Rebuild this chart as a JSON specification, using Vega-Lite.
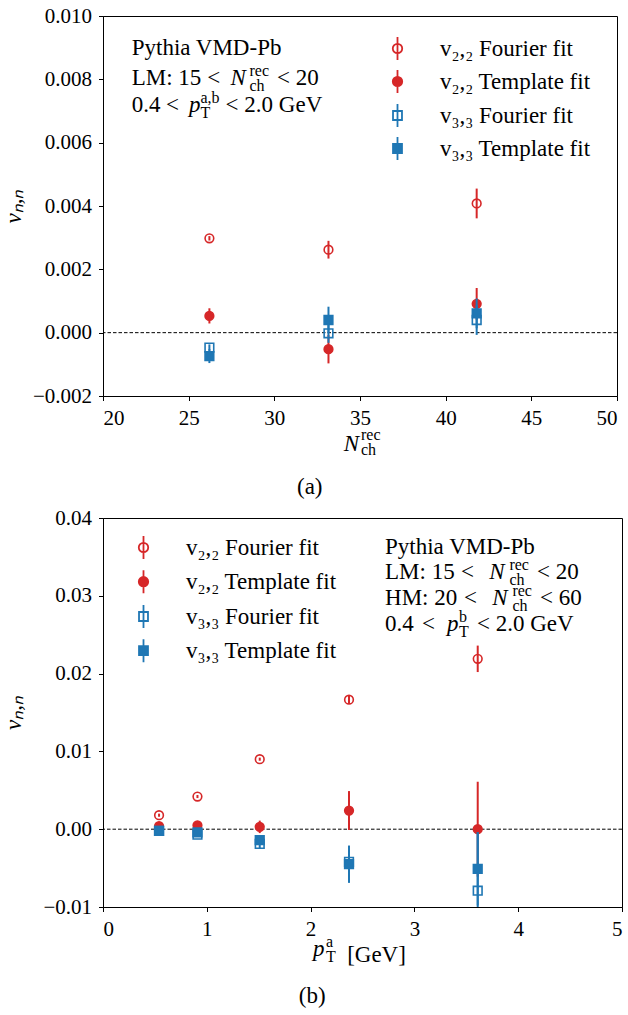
{
  "$schema": "https://vega.github.io/schema/vega-lite/v6.json",
  "padding": {"left": 1, "top": 4, "right": 0, "bottom": 0},
  "config": {
    "font": "Liberation Serif",
    "view": {"stroke": "black", "strokeWidth": 1},
    "axis": {"grid": false, "domainColor": "black", "tickColor": "black", "labelColor": "black", "titleColor": "black", "labelFont": "Liberation Serif", "titleFont": "Liberation Serif", "labelFontSize": 21, "titleFontSize": 23, "titleFontWeight": "normal", "tickSize": 4.5, "labelPadding": 7, "domainWidth": 1, "tickWidth": 1},
    "legend": {"labelFont": "Liberation Serif", "labelFontSize": 23, "labelColor": "black", "labelLimit": 0, "padding": 0, "symbolSize": 529, "symbolStrokeWidth": 1.8, "rowPadding": 2, "labelOffset": 30},
    "title": {"font": "Liberation Serif", "fontSize": 23, "fontWeight": "normal", "color": "black"},
    "text": {"font": "Liberation Serif", "fontSize": 23, "color": "black", "align": "left", "baseline": "alphabetic"}
  },
  "datasets": {
    "pa": [
      {"series": "v₂,₂ Fourier fit", "x": 26.21, "y": 0.00298, "lo": 0.00291, "hi": 0.00305},
      {"series": "v₂,₂ Fourier fit", "x": 33.16, "y": 0.00262, "lo": 0.00234, "hi": 0.00290},
      {"series": "v₂,₂ Fourier fit", "x": 41.81, "y": 0.00408, "lo": 0.00361, "hi": 0.00455},
      {"series": "v₂,₂ Template fit", "x": 26.21, "y": 0.00053, "lo": 0.00029, "hi": 0.00077},
      {"series": "v₂,₂ Template fit", "x": 33.16, "y": -0.00052, "lo": -0.00097, "hi": -0.00007},
      {"series": "v₂,₂ Template fit", "x": 41.81, "y": 0.00091, "lo": 0.00041, "hi": 0.00141},
      {"series": "v₃,₃ Fourier fit", "x": 26.21, "y": -0.00047, "lo": -0.00057, "hi": -0.00037},
      {"series": "v₃,₃ Fourier fit", "x": 33.16, "y": -0.00002, "lo": -0.00032, "hi": 0.00028},
      {"series": "v₃,₃ Fourier fit", "x": 41.81, "y": 0.00040, "lo": -0.00007, "hi": 0.00087},
      {"series": "v₃,₃ Template fit", "x": 26.21, "y": -0.00074, "lo": -0.00096, "hi": -0.00052},
      {"series": "v₃,₃ Template fit", "x": 33.16, "y": 0.00040, "lo": -0.00002, "hi": 0.00082},
      {"series": "v₃,₃ Template fit", "x": 41.81, "y": 0.00061, "lo": 0.00014, "hi": 0.00108}
    ],
    "pb": [
      {"series": "v₂,₂ Fourier fit", "x": 0.54, "y": 0.0018, "lo": 0.0016, "hi": 0.0020},
      {"series": "v₂,₂ Fourier fit", "x": 0.91, "y": 0.0042, "lo": 0.0040, "hi": 0.0044},
      {"series": "v₂,₂ Fourier fit", "x": 1.51, "y": 0.0090, "lo": 0.0088, "hi": 0.0092},
      {"series": "v₂,₂ Fourier fit", "x": 2.37, "y": 0.01665, "lo": 0.0161, "hi": 0.0172},
      {"series": "v₂,₂ Fourier fit", "x": 3.61, "y": 0.0219, "lo": 0.0202, "hi": 0.0236},
      {"series": "v₂,₂ Template fit", "x": 0.54, "y": 0.0004, "lo": 0.0002, "hi": 0.0006},
      {"series": "v₂,₂ Template fit", "x": 0.91, "y": 0.0005, "lo": 0.0003, "hi": 0.0007},
      {"series": "v₂,₂ Template fit", "x": 1.51, "y": 0.0003, "lo": -0.0005, "hi": 0.0011},
      {"series": "v₂,₂ Template fit", "x": 2.37, "y": 0.0024, "lo": -0.0001, "hi": 0.0049},
      {"series": "v₂,₂ Template fit", "x": 3.61, "y": 0.0000, "lo": -0.0061, "hi": 0.0061},
      {"series": "v₃,₃ Fourier fit", "x": 0.54, "y": -0.0002, "lo": -0.0004, "hi": 0.0000},
      {"series": "v₃,₃ Fourier fit", "x": 0.91, "y": -0.0007, "lo": -0.0010, "hi": -0.0004},
      {"series": "v₃,₃ Fourier fit", "x": 1.51, "y": -0.0019, "lo": -0.0025, "hi": -0.0013},
      {"series": "v₃,₃ Fourier fit", "x": 2.37, "y": -0.0042, "lo": -0.0060, "hi": -0.0024},
      {"series": "v₃,₃ Fourier fit", "x": 3.61, "y": -0.0079, "lo": -0.0154, "hi": -0.0004},
      {"series": "v₃,₃ Template fit", "x": 0.54, "y": -0.0002, "lo": -0.0004, "hi": 0.0000},
      {"series": "v₃,₃ Template fit", "x": 0.91, "y": -0.0004, "lo": -0.0006, "hi": -0.0002},
      {"series": "v₃,₃ Template fit", "x": 1.51, "y": -0.0014, "lo": -0.0020, "hi": -0.0008},
      {"series": "v₃,₃ Template fit", "x": 2.37, "y": -0.0045, "lo": -0.0069, "hi": -0.0021},
      {"series": "v₃,₃ Template fit", "x": 3.61, "y": -0.0051, "lo": -0.0098, "hi": -0.0004}
    ],
    "one": [{}]
  },
  "columns": 1,
  "spacing": 6,
  "resolve": {"scale": {"fill": "independent", "stroke": "independent"}, "legend": {"fill": "independent", "stroke": "independent"}},
  "concat": [
    {
      "width": 514, "height": 380,
      "title": {"text": "(a)", "orient": "bottom", "anchor": "middle", "frame": "bounds", "offset": 18},
      "resolve": {"scale": {"fill": "independent", "stroke": "independent"}, "legend": {"fill": "independent", "stroke": "independent"}},
      "layer": [
        {"data": {"name": "one"}, "mark": {"type": "rule", "strokeDash": [3.5, 2], "strokeWidth": 1, "color": "black"},
         "encoding": {"y": {"datum": 0, "type": "quantitative", "scale": {"domain": [-0.002, 0.010], "nice": false, "zero": false}}}},
        {"data": {"name": "pa"},
         "transform": [{"filter": {"field": "series", "oneOf": ["v₂,₂ Fourier fit", "v₂,₂ Template fit"]}}],
         "layer": [
           {"mark": {"type": "rule", "strokeWidth": 2, "clip": true},
            "encoding": {
              "x": {"field": "x", "type": "quantitative", "scale": {"domain": [20, 50], "nice": false, "zero": false}},
              "y": {"field": "lo", "type": "quantitative"},
              "y2": {"field": "hi"},
              "stroke": {"field": "series", "type": "nominal", "scale": {"domain": ["v₂,₂ Fourier fit", "v₂,₂ Template fit"], "range": ["#d62728", "#d62728"]},
                         "legend": {"orient": "none", "legendX": 282, "legendY": 20, "title": null, "symbolType": "M-0.41,0A0.41,0.41,0,1,1,0.41,0A0.41,0.41,0,1,1,-0.41,0Z M0,-1L0,1"}}
            }},
           {"mark": {"type": "point", "shape": "circle", "size": 75, "strokeWidth": 1.6, "opacity": 1, "filled": true},
            "encoding": {
              "x": {"field": "x", "type": "quantitative", "scale": {"domain": [20, 50], "nice": false, "zero": false},
                    "axis": {"values": [20, 25, 30, 35, 40, 45, 50], "format": "d", "title": "N", "titleFontStyle": "italic", "titleX": 248, "titlePadding": 4}},
              "y": {"field": "y", "type": "quantitative", "scale": {"domain": [-0.002, 0.010], "nice": false, "zero": false},
                    "axis": {"values": [-0.002, 0, 0.002, 0.004, 0.006, 0.008, 0.010], "format": ".3f", "title": "vₙ,ₙ", "titleFontStyle": "italic", "minExtent": 72, "titlePadding": 6}},
              "fill": {"field": "series", "type": "nominal", "scale": {"domain": ["v₂,₂ Fourier fit", "v₂,₂ Template fit"], "range": ["transparent", "#d62728"]},
                       "legend": {"orient": "none", "legendX": 282, "legendY": 20, "title": null, "symbolType": "M-0.41,0A0.41,0.41,0,1,1,0.41,0A0.41,0.41,0,1,1,-0.41,0Z M0,-1L0,1"}},
              "stroke": {"field": "series", "type": "nominal", "scale": {"domain": ["v₂,₂ Fourier fit", "v₂,₂ Template fit"], "range": ["#d62728", "#d62728"]},
                         "legend": {"orient": "none", "legendX": 282, "legendY": 20, "title": null, "symbolType": "M-0.41,0A0.41,0.41,0,1,1,0.41,0A0.41,0.41,0,1,1,-0.41,0Z M0,-1L0,1"}}
            }}
         ]},
        {"data": {"name": "pa"},
         "transform": [{"filter": {"field": "series", "oneOf": ["v₃,₃ Fourier fit", "v₃,₃ Template fit"]}}],
         "layer": [
           {"mark": {"type": "rule", "strokeWidth": 2, "clip": true},
            "encoding": {
              "x": {"field": "x", "type": "quantitative"},
              "y": {"field": "lo", "type": "quantitative"},
              "y2": {"field": "hi"},
              "stroke": {"field": "series", "type": "nominal", "scale": {"domain": ["v₃,₃ Fourier fit", "v₃,₃ Template fit"], "range": ["#1f77b4", "#1f77b4"]},
                         "legend": {"orient": "none", "legendX": 282, "legendY": 87, "title": null, "symbolType": "M-0.39,-0.39H0.39V0.39H-0.39Z M0,-1L0,1"}}
            }},
           {"mark": {"type": "point", "shape": "square", "size": 75, "strokeWidth": 1.6, "opacity": 1, "filled": true},
            "encoding": {
              "x": {"field": "x", "type": "quantitative"},
              "y": {"field": "y", "type": "quantitative"},
              "fill": {"field": "series", "type": "nominal", "scale": {"domain": ["v₃,₃ Fourier fit", "v₃,₃ Template fit"], "range": ["transparent", "#1f77b4"]},
                       "legend": {"orient": "none", "legendX": 282, "legendY": 87, "title": null, "symbolType": "M-0.39,-0.39H0.39V0.39H-0.39Z M0,-1L0,1"}},
              "stroke": {"field": "series", "type": "nominal", "scale": {"domain": ["v₃,₃ Fourier fit", "v₃,₃ Template fit"], "range": ["#1f77b4", "#1f77b4"]},
                         "legend": {"orient": "none", "legendX": 282, "legendY": 87, "title": null, "symbolType": "M-0.39,-0.39H0.39V0.39H-0.39Z M0,-1L0,1"}}
            }}
         ]},
        {"data": {"name": "one"}, "mark": {"type": "text"}, "encoding": {"text": {"value": "Pythia VMD-Pb"}, "x": {"datum": 21.675, "type": "quantitative"}, "y": {"datum": 0.008768, "type": "quantitative"}}},
        {"data": {"name": "one"}, "mark": {"type": "text"}, "encoding": {"text": {"value": "LM: 15"}, "x": {"datum": 21.675, "type": "quantitative"}, "y": {"datum": 0.007821, "type": "quantitative"}}},
        {"data": {"name": "one"}, "mark": {"type": "text"}, "encoding": {"text": {"value": "<"}, "x": {"datum": 26.082, "type": "quantitative"}, "y": {"datum": 0.007821, "type": "quantitative"}}},
        {"data": {"name": "one"}, "mark": {"type": "text", "fontStyle": "italic"}, "encoding": {"text": {"value": "N"}, "x": {"datum": 27.436, "type": "quantitative"}, "y": {"datum": 0.007821, "type": "quantitative"}}},
        {"data": {"name": "one"}, "mark": {"type": "text", "fontSize": 16, "lineHeight": 15}, "encoding": {"text": {"value": ["rec", "ch"]}, "x": {"datum": 28.551, "type": "quantitative"}, "y": {"datum": 0.008105, "type": "quantitative"}}},
        {"data": {"name": "one"}, "mark": {"type": "text"}, "encoding": {"text": {"value": "< 20"}, "x": {"datum": 30.156, "type": "quantitative"}, "y": {"datum": 0.007821, "type": "quantitative"}}},
        {"data": {"name": "one"}, "mark": {"type": "text"}, "encoding": {"text": {"value": "0.4"}, "x": {"datum": 21.675, "type": "quantitative"}, "y": {"datum": 0.006978, "type": "quantitative"}}},
        {"data": {"name": "one"}, "mark": {"type": "text"}, "encoding": {"text": {"value": "<"}, "x": {"datum": 23.671, "type": "quantitative"}, "y": {"datum": 0.006978, "type": "quantitative"}}},
        {"data": {"name": "one"}, "mark": {"type": "text", "fontStyle": "italic"}, "encoding": {"text": {"value": "p"}, "x": {"datum": 25.025, "type": "quantitative"}, "y": {"datum": 0.006978, "type": "quantitative"}}},
        {"data": {"name": "one"}, "mark": {"type": "text", "fontSize": 16, "lineHeight": 15}, "encoding": {"text": {"value": ["a,b", "T"]}, "x": {"datum": 25.691, "type": "quantitative"}, "y": {"datum": 0.007262, "type": "quantitative"}}},
        {"data": {"name": "one"}, "mark": {"type": "text"}, "encoding": {"text": {"value": "< 2.0 GeV"}, "x": {"datum": 27.156, "type": "quantitative"}, "y": {"datum": 0.006978, "type": "quantitative"}}},
        {"data": {"name": "one"}, "mark": {"type": "text", "fontSize": 16, "lineHeight": 15}, "encoding": {"text": {"value": ["rec", "ch"]}, "x": {"datum": 35.059, "type": "quantitative"}, "y": {"datum": -0.003389, "type": "quantitative"}}}
      ]
    },
    {
      "width": 519, "height": 389,
      "title": {"text": "(b)", "orient": "bottom", "anchor": "middle", "frame": "bounds", "offset": 18},
      "resolve": {"scale": {"fill": "independent", "stroke": "independent"}, "legend": {"fill": "independent", "stroke": "independent"}},
      "layer": [
        {"data": {"name": "one"}, "mark": {"type": "rule", "strokeDash": [3.5, 2], "strokeWidth": 1, "color": "black"},
         "encoding": {"y": {"datum": 0, "type": "quantitative", "scale": {"domain": [-0.01, 0.04], "nice": false, "zero": false}}}},
        {"data": {"name": "pb"},
         "transform": [{"filter": {"field": "series", "oneOf": ["v₂,₂ Fourier fit", "v₂,₂ Template fit"]}}],
         "layer": [
           {"mark": {"type": "rule", "strokeWidth": 2, "clip": true},
            "encoding": {
              "x": {"field": "x", "type": "quantitative", "scale": {"domain": [0, 5], "nice": false, "zero": false}},
              "y": {"field": "lo", "type": "quantitative"},
              "y2": {"field": "hi"},
              "stroke": {"field": "series", "type": "nominal", "scale": {"domain": ["v₂,₂ Fourier fit", "v₂,₂ Template fit"], "range": ["#d62728", "#d62728"]},
                         "legend": {"orient": "none", "legendX": 28, "legendY": 17, "rowPadding": 3.2, "title": null, "symbolType": "M-0.41,0A0.41,0.41,0,1,1,0.41,0A0.41,0.41,0,1,1,-0.41,0Z M0,-1L0,1"}}
            }},
           {"mark": {"type": "point", "shape": "circle", "size": 75, "strokeWidth": 1.6, "opacity": 1, "filled": true},
            "encoding": {
              "x": {"field": "x", "type": "quantitative", "scale": {"domain": [0, 5], "nice": false, "zero": false},
                    "axis": {"values": [0, 1, 2, 3, 4, 5], "format": "d", "title": "[GeV]", "titleX": 273, "titlePadding": 4}},
              "y": {"field": "y", "type": "quantitative", "scale": {"domain": [-0.01, 0.04], "nice": false, "zero": false},
                    "axis": {"values": [-0.01, 0, 0.01, 0.02, 0.03, 0.04], "format": ".2f", "title": "vₙ,ₙ", "titleFontStyle": "italic", "minExtent": 72, "titlePadding": 6}},
              "fill": {"field": "series", "type": "nominal", "scale": {"domain": ["v₂,₂ Fourier fit", "v₂,₂ Template fit"], "range": ["transparent", "#d62728"]},
                       "legend": {"orient": "none", "legendX": 28, "legendY": 17, "rowPadding": 3.2, "title": null, "symbolType": "M-0.41,0A0.41,0.41,0,1,1,0.41,0A0.41,0.41,0,1,1,-0.41,0Z M0,-1L0,1"}},
              "stroke": {"field": "series", "type": "nominal", "scale": {"domain": ["v₂,₂ Fourier fit", "v₂,₂ Template fit"], "range": ["#d62728", "#d62728"]},
                         "legend": {"orient": "none", "legendX": 28, "legendY": 17, "rowPadding": 3.2, "title": null, "symbolType": "M-0.41,0A0.41,0.41,0,1,1,0.41,0A0.41,0.41,0,1,1,-0.41,0Z M0,-1L0,1"}}
            }}
         ]},
        {"data": {"name": "pb"},
         "transform": [{"filter": {"field": "series", "oneOf": ["v₃,₃ Fourier fit", "v₃,₃ Template fit"]}}],
         "layer": [
           {"mark": {"type": "rule", "strokeWidth": 2, "clip": true},
            "encoding": {
              "x": {"field": "x", "type": "quantitative"},
              "y": {"field": "lo", "type": "quantitative"},
              "y2": {"field": "hi"},
              "stroke": {"field": "series", "type": "nominal", "scale": {"domain": ["v₃,₃ Fourier fit", "v₃,₃ Template fit"], "range": ["#1f77b4", "#1f77b4"]},
                         "legend": {"orient": "none", "legendX": 28, "legendY": 86, "rowPadding": 3.2, "title": null, "symbolType": "M-0.39,-0.39H0.39V0.39H-0.39Z M0,-1L0,1"}}
            }},
           {"mark": {"type": "point", "shape": "square", "size": 75, "strokeWidth": 1.6, "opacity": 1, "filled": true},
            "encoding": {
              "x": {"field": "x", "type": "quantitative"},
              "y": {"field": "y", "type": "quantitative"},
              "fill": {"field": "series", "type": "nominal", "scale": {"domain": ["v₃,₃ Fourier fit", "v₃,₃ Template fit"], "range": ["transparent", "#1f77b4"]},
                       "legend": {"orient": "none", "legendX": 28, "legendY": 86, "rowPadding": 3.2, "title": null, "symbolType": "M-0.39,-0.39H0.39V0.39H-0.39Z M0,-1L0,1"}},
              "stroke": {"field": "series", "type": "nominal", "scale": {"domain": ["v₃,₃ Fourier fit", "v₃,₃ Template fit"], "range": ["#1f77b4", "#1f77b4"]},
                         "legend": {"orient": "none", "legendX": 28, "legendY": 86, "rowPadding": 3.2, "title": null, "symbolType": "M-0.39,-0.39H0.39V0.39H-0.39Z M0,-1L0,1"}}
            }}
         ]},
        {"data": {"name": "one"}, "mark": {"type": "text"}, "encoding": {"text": {"value": "Pythia VMD-Pb"}, "x": {"datum": 2.717, "type": "quantitative"}, "y": {"datum": 0.035373, "type": "quantitative"}}},
        {"data": {"name": "one"}, "mark": {"type": "text"}, "encoding": {"text": {"value": "LM: 15"}, "x": {"datum": 2.717, "type": "quantitative"}, "y": {"datum": 0.03216, "type": "quantitative"}}},
        {"data": {"name": "one"}, "mark": {"type": "text"}, "encoding": {"text": {"value": "<"}, "x": {"datum": 3.449, "type": "quantitative"}, "y": {"datum": 0.03216, "type": "quantitative"}}},
        {"data": {"name": "one"}, "mark": {"type": "text", "fontStyle": "italic"}, "encoding": {"text": {"value": "N"}, "x": {"datum": 3.72, "type": "quantitative"}, "y": {"datum": 0.03216, "type": "quantitative"}}},
        {"data": {"name": "one"}, "mark": {"type": "text", "fontSize": 16, "lineHeight": 15}, "encoding": {"text": {"value": ["rec", "ch"]}, "x": {"datum": 3.915, "type": "quantitative"}, "y": {"datum": 0.033316, "type": "quantitative"}}},
        {"data": {"name": "one"}, "mark": {"type": "text"}, "encoding": {"text": {"value": "< 20"}, "x": {"datum": 4.181, "type": "quantitative"}, "y": {"datum": 0.03216, "type": "quantitative"}}},
        {"data": {"name": "one"}, "mark": {"type": "text"}, "encoding": {"text": {"value": "HM: 20"}, "x": {"datum": 2.717, "type": "quantitative"}, "y": {"datum": 0.028818, "type": "quantitative"}}},
        {"data": {"name": "one"}, "mark": {"type": "text"}, "encoding": {"text": {"value": "<"}, "x": {"datum": 3.478, "type": "quantitative"}, "y": {"datum": 0.028818, "type": "quantitative"}}},
        {"data": {"name": "one"}, "mark": {"type": "text", "fontStyle": "italic"}, "encoding": {"text": {"value": "N"}, "x": {"datum": 3.749, "type": "quantitative"}, "y": {"datum": 0.028818, "type": "quantitative"}}},
        {"data": {"name": "one"}, "mark": {"type": "text", "fontSize": 16, "lineHeight": 15}, "encoding": {"text": {"value": ["rec", "ch"]}, "x": {"datum": 3.944, "type": "quantitative"}, "y": {"datum": 0.029975, "type": "quantitative"}}},
        {"data": {"name": "one"}, "mark": {"type": "text"}, "encoding": {"text": {"value": "< 60"}, "x": {"datum": 4.21, "type": "quantitative"}, "y": {"datum": 0.028818, "type": "quantitative"}}},
        {"data": {"name": "one"}, "mark": {"type": "text"}, "encoding": {"text": {"value": "0.4"}, "x": {"datum": 2.717, "type": "quantitative"}, "y": {"datum": 0.025476, "type": "quantitative"}}},
        {"data": {"name": "one"}, "mark": {"type": "text"}, "encoding": {"text": {"value": "<"}, "x": {"datum": 3.073, "type": "quantitative"}, "y": {"datum": 0.025476, "type": "quantitative"}}},
        {"data": {"name": "one"}, "mark": {"type": "text", "fontStyle": "italic"}, "encoding": {"text": {"value": "p"}, "x": {"datum": 3.314, "type": "quantitative"}, "y": {"datum": 0.025476, "type": "quantitative"}}},
        {"data": {"name": "one"}, "mark": {"type": "text", "fontSize": 16, "lineHeight": 15}, "encoding": {"text": {"value": ["b", "T"]}, "x": {"datum": 3.429, "type": "quantitative"}, "y": {"datum": 0.026633, "type": "quantitative"}}},
        {"data": {"name": "one"}, "mark": {"type": "text"}, "encoding": {"text": {"value": "< 2.0 GeV"}, "x": {"datum": 3.603, "type": "quantitative"}, "y": {"datum": 0.025476, "type": "quantitative"}}},
        {"data": {"name": "one"}, "mark": {"type": "text", "fontStyle": "italic"}, "encoding": {"text": {"value": "p"}, "x": {"datum": 2.023, "type": "quantitative"}, "y": {"datum": -0.0163, "type": "quantitative"}}},
        {"data": {"name": "one"}, "mark": {"type": "text", "fontSize": 16, "lineHeight": 15}, "encoding": {"text": {"value": ["a", "T"]}, "x": {"datum": 2.148, "type": "quantitative"}, "y": {"datum": -0.01514, "type": "quantitative"}}}
      ]
    }
  ]
}
